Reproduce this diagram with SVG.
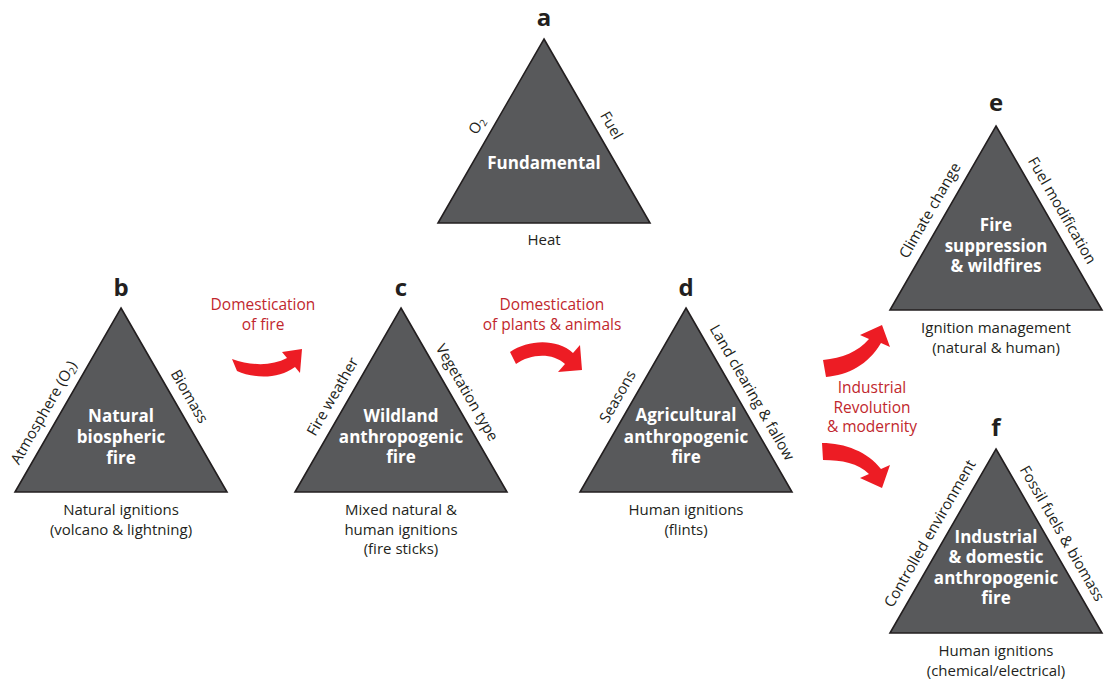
<svg xmlns="http://www.w3.org/2000/svg" width="1111" height="682" viewBox="0 0 1111 682">
<style>
.tri{fill:#58595b;stroke:#231f20;stroke-width:1.6;stroke-linejoin:miter}
.in{font-family:"Open Sans","Liberation Sans",sans-serif;font-weight:bold;font-size:17px;fill:#ffffff;text-anchor:middle}
.lb{font-family:"Open Sans","Liberation Sans",sans-serif;font-size:15px;fill:#231f20;text-anchor:middle}
.side{font-family:"Open Sans","Liberation Sans",sans-serif;font-size:15px;fill:#231f20;text-anchor:middle}
.ttl{font-family:"Open Sans","Liberation Sans",sans-serif;font-weight:bold;font-size:24px;fill:#231f20;text-anchor:middle}
.red{font-family:"Open Sans","Liberation Sans",sans-serif;font-size:15.5px;fill:#c1272d;text-anchor:middle}
.arr{fill:#ed1c24;stroke:none}
</style>
<rect width="1111" height="682" fill="#ffffff"/>

<g id="node-a">
<text class="ttl" x="544" y="26">a</text>
<polygon class="tri" points="544,39 650,223 438,223"/>
<text class="in" x="544" y="169">Fundamental</text>
<text class="side" transform="translate(481,128) rotate(-60)">O<tspan font-size="10px" dy="3">2</tspan></text>
<text class="side" transform="translate(607,128) rotate(60)">Fuel</text>
<text class="lb" x="544" y="245">Heat</text>
</g>

<g id="node-b">
<text class="ttl" x="121" y="296">b</text>
<polygon class="tri" points="121,308 227,492 15,492"/>
<text class="in" x="121" y="422">Natural</text>
<text class="in" x="121" y="443">biospheric</text>
<text class="in" x="121" y="464">fire</text>
<text class="side" transform="translate(48,415) rotate(-60)">Atmosphere (O<tspan font-size="10px" dy="3">2</tspan><tspan dy="-3">)</tspan></text>
<text class="side" transform="translate(185,399) rotate(60)">Biomass</text>
<text class="lb" x="121" y="515">Natural ignitions</text>
<text class="lb" x="121" y="534.5">(volcano &amp; lightning)</text>
</g>

<g id="node-c">
<text class="ttl" x="401" y="296">c</text>
<polygon class="tri" points="401,308 507,492 295,492"/>
<text class="in" x="401" y="422">Wildland</text>
<text class="in" x="401" y="443">anthropogenic</text>
<text class="in" x="401" y="463">fire</text>
<text class="side" transform="translate(337,399) rotate(-60)">Fire weather</text>
<text class="side" transform="translate(462.7,395) rotate(60)">Vegetation type</text>
<text class="lb" x="401" y="515">Mixed natural &amp;</text>
<text class="lb" x="401" y="534.5">human ignitions</text>
<text class="lb" x="401" y="554">(fire sticks)</text>
</g>

<g id="node-d">
<text class="ttl" x="686" y="296">d</text>
<polygon class="tri" points="686,308 792,492 580,492"/>
<text class="in" x="686" y="421">Agricultural</text>
<text class="in" x="686" y="443">anthropogenic</text>
<text class="in" x="686" y="463">fire</text>
<text class="side" transform="translate(622,399) rotate(-60)">Seasons</text>
<text class="side" transform="translate(747.7,395) rotate(60)">Land clearing &amp; fallow</text>
<text class="lb" x="686" y="515">Human ignitions</text>
<text class="lb" x="686" y="534.5">(flints)</text>
</g>

<g id="node-e">
<text class="ttl" x="996" y="111">e</text>
<polygon class="tri" points="996,126 1102,310 890,310"/>
<text class="in" x="996" y="231">Fire</text>
<text class="in" x="996" y="252">suppression</text>
<text class="in" x="996" y="272">&amp; wildfires</text>
<text class="side" transform="translate(934.3,213) rotate(-60)">Climate change</text>
<text class="side" transform="translate(1057.7,213) rotate(60)">Fuel modification</text>
<text class="lb" x="996" y="333">Ignition management</text>
<text class="lb" x="996" y="352.5">(natural &amp; human)</text>
</g>

<g id="node-f">
<text class="ttl" x="996" y="436">f</text>
<polygon class="tri" points="996,449 1102,633 890,633"/>
<text class="in" x="996" y="543">Industrial</text>
<text class="in" x="996" y="563">&amp; domestic</text>
<text class="in" x="996" y="584">anthropogenic</text>
<text class="in" x="996" y="604">fire</text>
<text class="side" transform="translate(934.3,536) rotate(-60)">Controlled environment</text>
<text class="side" transform="translate(1057.7,536) rotate(60)">Fossil fuels &amp; biomass</text>
<text class="lb" x="996" y="656">Human ignitions</text>
<text class="lb" x="996" y="675.5">(chemical/electrical)</text>
</g>

<g id="connectors">
<path class="arr" d="M232,359 C252,366 272,366 287,358 L282,352 L302,349 L300,373 L295,367 C278,380 252,378 237,371 Z"/>
<text class="red" x="263" y="310">Domestication</text>
<text class="red" x="263" y="330">of fire</text>
<path class="arr" d="M510,352 C528,340 556,338 573,353 L580,345 L582,370 L558,372 L565,364 C552,352 530,354 516,364 Z"/>
<text class="red" x="552" y="310">Domestication</text>
<text class="red" x="552" y="330">of plants &amp; animals</text>
<path class="arr" d="M823,360 C842,358 858,352 869,339 L860,335 L882,325 L890,347 L881,343 C868,365 848,375 826,377 Z"/>
<path class="arr" d="M822,443 C845,443 868,452 881,469 L890,465 L882,488 L860,478 L869,474 C858,463 842,460 823,460 Z"/>
<text class="red" x="872" y="393">Industrial</text>
<text class="red" x="872" y="412.5">Revolution</text>
<text class="red" x="872" y="432">&amp; modernity</text>
</g>
</svg>
